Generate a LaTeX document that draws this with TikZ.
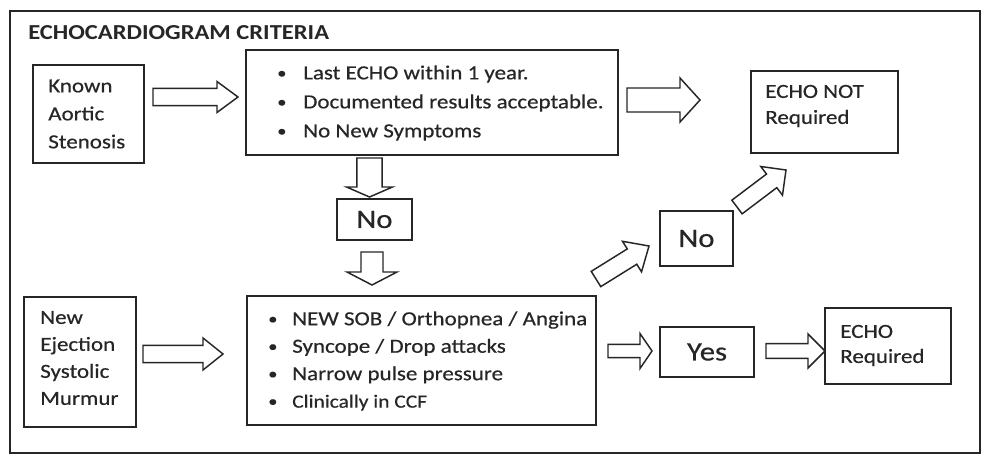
\documentclass[tikz,border=0pt]{standalone}
\usepackage{fontspec}
\setmainfont{Carlito}[FakeStretch=1.15, UprightFeatures={FakeBold=0.5}]
\usetikzlibrary{calc}
\definecolor{ink}{HTML}{262626}
\newcommand\bul{\makebox[19.5pt][l]{\raisebox{0.8pt}{\fontsize{12}{12}\selectfont\textbullet}}}
\newcommand\bulb{\makebox[18pt][l]{\raisebox{0.8pt}{\fontsize{12}{12}\selectfont\textbullet}}}
% block arrow from #1 (tail) to #2 (tip): half shaft #3, half head #4, head length #5
\newcommand\fatarrow[5]{%
  \path ($(#2)!#5!(#1)$) coordinate (fahb);
  \draw[blockarrow] ($(#1)!#3!90:(#2)$) -- ($(fahb)!#3!-90:(#1)$) -- ($(fahb)!#4!-90:(#1)$) -- (#2)
    -- ($(fahb)!#4!90:(#1)$) -- ($(fahb)!#3!90:(#1)$) -- ($(#1)!#3!-90:(#2)$) -- cycle;}
\tikzset{
  box/.style 2 args={draw=ink, line width=1.1pt, minimum width=#1*0.75pt, minimum height=#2*0.75pt, inner sep=0pt},
  txt/.style={anchor=west, inner sep=0pt, align=left, text=ink, font=\fontsize{15}{21}\selectfont},
  big/.style={text=ink, font=\fontsize{20}{24}\selectfont},
  blockarrow/.style={draw=ink, line width=1.1pt, line join=miter, fill=white},
}
\begin{document}
\begin{tikzpicture}[x=0.75pt, y=-0.75pt]
\useasboundingbox (0,0) rectangle (985,461);
\node[box={970}{442}] (frame) at (495,232) {};
\node[anchor=base west, inner sep=0pt, text=ink, font=\bfseries\fontsize{16}{19}\selectfont] (title) at (28,39) {ECHOCARDIOGRAM CRITERIA};

\node[box={111}{98}] (kas) at (88.5,114) {};
\node[txt] (kast) at (48,114) {Known\\Aortic\\Stenosis};

\node[box={372}{105}] (tc) at (432,102.5) {};
\node[txt, font=\fontsize{15}{21.75}\selectfont] (tct) at (277,103) {\bul Last ECHO within 1 year.\\\bul Documented results acceptable.\\\bul No New Symptoms};

\node[box={147}{82}] (enr) at (824.5,112) {};
\node[txt, font=\fontsize{15}{19.5}\selectfont] (enrt) at (765,106) {ECHO NOT\\Required};

\node[box={75}{41}, big] (no1) at (374.5,219.5) {No};

\node[box={112}{130}] (nes) at (80,362) {};
\node[txt, font=\fontsize{15}{20.25}\selectfont] (nest) at (40,358) {New\\Ejection\\Systolic\\Murmur};

\node[box={349}{129}] (bc) at (421.5,360.5) {};
\node[txt, font=\fontsize{15}{20.6}\selectfont] (bct) at (268,361) {\bulb NEW SOB / Orthopnea / Angina\\\bulb Syncope / Drop attacks\\\bulb Narrow pulse pressure\\{\fontsize{14}{20.6}\selectfont\bulb Clinically in CCF}};

\node[box={73}{55}, big] (no2) at (696.5,238.5) {No};
\node[box={94}{50}, big] (yes) at (707,352) {Yes};

\node[box={126}{76}] (er) at (888,346) {};
\node[txt, font=\fontsize{15}{18.75}\selectfont] (ert) at (840,345.5) {ECHO\\Required};

% connectors
\coordinate (a1s) at (153,97);   \coordinate (a1e) at (238,97);
\coordinate (a2s) at (627,100);  \coordinate (a2e) at (700,100);
\coordinate (a3s) at (369.5,158); \coordinate (a3e) at (369.5,197);
\coordinate (a4s) at (372,252);  \coordinate (a4e) at (372,285);
\coordinate (a5s) at (143,354);  \coordinate (a5e) at (223,354);
\coordinate (a6s) at (608,351);  \coordinate (a6e) at (652,351);
\coordinate (a7s) at (766,351);  \coordinate (a7e) at (825,351);
\coordinate (a8s) at (596,279);  \coordinate (a8e) at (649,246);
\coordinate (a9s) at (737,207);  \coordinate (a9e) at (786,170);
\fatarrow{a1s}{a1e}{6.4pt}{11.6pt}{15.75pt}
\fatarrow{a2s}{a2e}{9pt}{16.5pt}{15pt}
\fatarrow{a3s}{a3e}{9.4pt}{17.25pt}{7.5pt}
\fatarrow{a4s}{a4e}{8.25pt}{18.75pt}{9.75pt}
\fatarrow{a5s}{a5e}{6.4pt}{12pt}{15pt}
\fatarrow{a6s}{a6e}{4.9pt}{13.1pt}{9pt}
\fatarrow{a7s}{a7e}{5.6pt}{12.75pt}{12.75pt}
\fatarrow{a8s}{a8e}{6.75pt}{13.5pt}{15pt}
\fatarrow{a9s}{a9e}{6.4pt}{13.5pt}{13.5pt}
\end{tikzpicture}
\end{document}
